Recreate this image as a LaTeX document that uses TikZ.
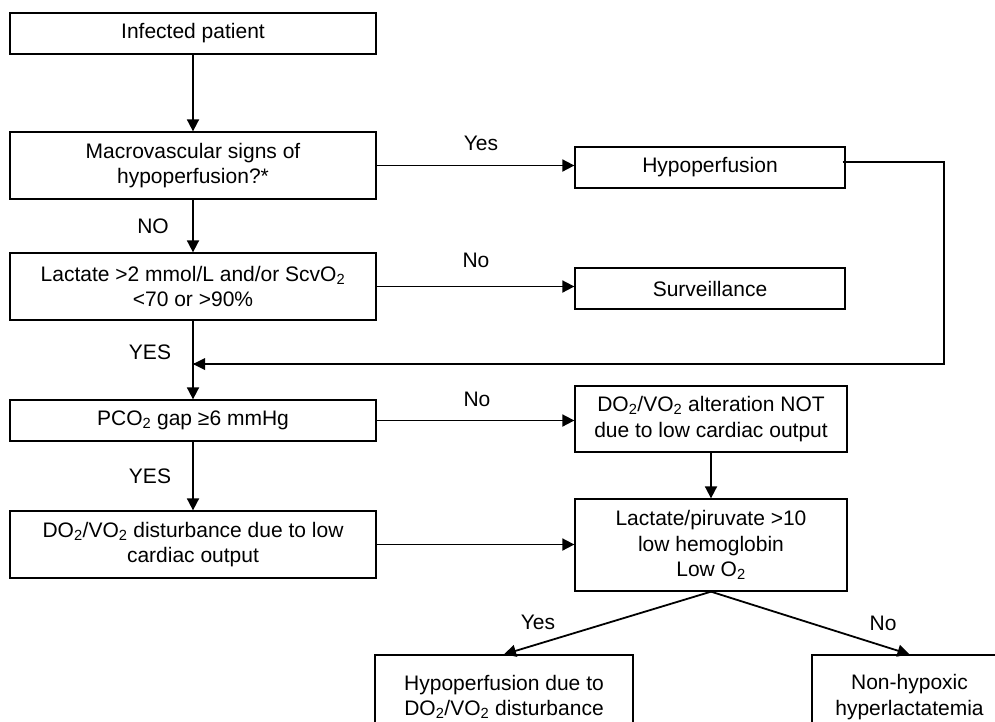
\documentclass[tikz,border=0pt]{standalone}
\usepackage{fontspec}
\setmainfont{Liberation Sans}
\usetikzlibrary{arrows.meta,calc}
\begin{document}
\begin{tikzpicture}[x=1pt,y=-1pt,
  box/.style={draw, line width=1.3pt, inner sep=0pt, align=center, font=\fontsize{21}{25.5}\selectfont},
  arr/.style={line width=1.8pt, line join=miter, -{Triangle[length=12pt,width=12pt]}},
  lbl/.style={font=\fontsize{21}{25}\selectfont, inner sep=0pt}]
\useasboundingbox (0,0) rectangle (995,721);
\clip (0,0) rectangle (995,721);
\fill[white] (0,0) rectangle (995,721);
% left column
\node[box, minimum width=366pt, minimum height=41pt] (infected) at (193,33.5) {Infected patient};
\node[box, minimum width=366pt, minimum height=67pt] (macro) at (193,165.5) {Macrovascular signs of\\hypoperfusion?*};
\node[box, minimum width=366pt, minimum height=67pt] (lactate) at (193,286.5) {Lactate >2 mmol/L and/or ScvO\textsubscript{2}\\<70 or >90\%};
\node[box, minimum width=366pt, minimum height=41pt] (pco) at (193,420.5) {PCO\textsubscript{2} gap ≥6 mmHg};
\node[box, minimum width=366pt, minimum height=67pt] (dist) at (193,544.5) {DO\textsubscript{2}/VO\textsubscript{2} disturbance due to low\\cardiac output};
% right column
\node[box, minimum width=270pt, minimum height=41pt] (hypo) at (710,167.5) {Hypoperfusion};
\node[box, minimum width=270pt, minimum height=41pt] (surv) at (710,288.5) {Surveillance};
\node[box, minimum width=272pt, minimum height=66pt] (notbox) at (711,419) {DO\textsubscript{2}/VO\textsubscript{2} alteration NOT\\due to low cardiac output};
\node[box, minimum width=272pt, minimum height=92pt] (lp) at (711,545) {Lactate/piruvate >10\\low hemoglobin\\Low O\textsubscript{2}};
% bottom
\node[box, minimum width=258pt, minimum height=84pt] (yesbox) at (504,697) {Hypoperfusion due to\\DO\textsubscript{2}/VO\textsubscript{2} disturbance};
\node[box, minimum width=195pt, minimum height=84pt] (nobox) at (909.5,697) {Non-hypoxic\\hyperlactatemia};
% coordinates
\coordinate (rc) at (944,364);
\coordinate (merge) at (193,364);
% connectors
\draw[arr] (infected) -- (macro);
\draw[arr] (macro) -- node[lbl, pos=0.5, xshift=-40pt] {NO} (lactate);
\draw[arr] (lactate.south) -- node[lbl, pos=0.4, xshift=-43pt] {YES} (pco.north);
\draw[arr] (pco) -- node[lbl, pos=0.5, xshift=-43pt] {YES} (dist);
\draw[arr] (macro.east) -- (macro.east -| hypo.west);
\node[lbl] (lyes1) at (481,143) {Yes};
\draw[arr] (lactate.east) -- (lactate.east -| surv.west);
\node[lbl] (lno1) at (476,260) {No};
\draw[arr] (pco.east) -- (pco.east -| notbox.west);
\node[lbl] (lno2) at (477,399) {No};
\draw[arr] (dist.east) -- (dist.east -| lp.west);
\draw[arr] (notbox) -- (lp);
\draw[line width=1.8pt, line join=miter] ([yshift=5.5pt,xshift=-3pt]hypo.east) -| (rc) -- (merge);
\draw[arr] (lp.south) -- (yesbox.north);
\draw[arr] (lp.south) -- (nobox.north);
\node[lbl] (lyes2) at (538,622) {Yes};
\node[lbl] (lno3) at (883,623) {No};
\fill (merge) -- ++(12,-6) -- ++(0,12) -- cycle;
\end{tikzpicture}
\end{document}
